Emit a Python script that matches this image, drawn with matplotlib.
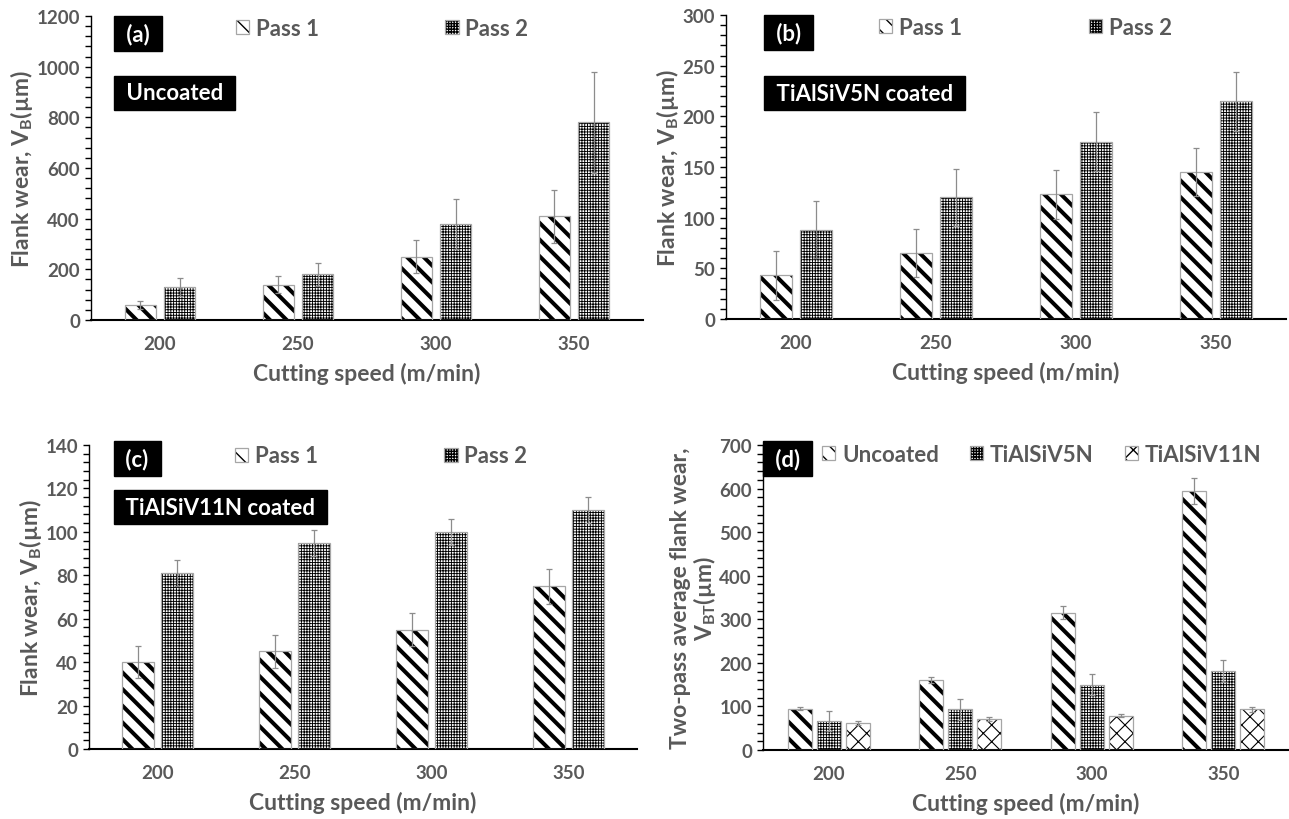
import numpy as np
import matplotlib
matplotlib.use("Agg")
import matplotlib.pyplot as plt
from matplotlib.patches import Patch
from matplotlib.ticker import MultipleLocator

plt.rcParams['font.family'] = ['Lato', 'DejaVu Sans']
plt.rcParams['font.weight'] = 'bold'
plt.rcParams['mathtext.default'] = 'regular'

speeds = ['200', '250', '300', '350']

# (a) uncoated
a_pass1 = [60, 140, 250, 410]
a_pass1_err = [15, 35, 65, 105]
a_pass2 = [130, 180, 380, 780]
a_pass2_err = [35, 45, 98, 198]

# (b) TiAlSiV5N coated
b_pass1 = [43, 65, 123, 145]
b_pass1_err = [24, 24, 24, 24]
b_pass2 = [88, 120, 175, 215]
b_pass2_err = [28, 28, 29, 29]

# (c) TiAlSiV11N coated
c_pass1 = [40, 45, 55, 75]
c_pass1_err = [7.5, 7.5, 7.5, 8]
c_pass2 = [81, 95, 100, 110]
c_pass2_err = [6, 6, 6, 6]

# (d) two-pass average
d_unc = [95, 160, 315, 595]
d_unc_err = [3, 7, 15, 30]
d_v5 = [67, 93, 150, 182]
d_v5_err = [23, 25, 24, 25]
d_v11 = [62, 71, 79, 93]
d_v11_err = [5, 4, 4, 5]

TXT = '#595959'
ERR = '#8c8c8c'
EDGE = '#a6a6a6'

# hatch styles: (hatch, hatch linewidth)
STRIPE = ('\\\\', 2.9)
CHECK = ('++++++', 0.65)
DIAMOND = ('xx', 0.8)

W, H = 1289, 820
fig = plt.figure(figsize=(W / 100, H / 100), dpi=100)


def make_ax(left, top, right, bottom):
    return fig.add_axes([left / W, 1 - bottom / H, (right - left) / W, (bottom - top) / H])


def hatched_bars(ax, x, vals, errs, width, style):
    hatch, hlw = style
    with plt.rc_context({'hatch.linewidth': hlw}):
        bars = ax.bar(x, vals, width, color='white', edgecolor='black', linewidth=0, hatch=hatch, zorder=2)
    for b in bars:
        if hasattr(b, 'set_hatch_linewidth'):
            b.set_hatch_linewidth(hlw)
    ax.bar(x, vals, width, fill=False, edgecolor=EDGE, linewidth=0.9, zorder=3)
    ax.errorbar(x, vals, yerr=errs, fmt='none', ecolor=ERR, elinewidth=0.9, capsize=2.5, capthick=0.9, zorder=4)


def legend_handle(style):
    hatch, hlw = style
    with plt.rc_context({'hatch.linewidth': hlw}):
        p = Patch(facecolor='white', edgecolor='black', linewidth=0, hatch=hatch)
    if hasattr(p, 'set_hatch_linewidth'):
        p.set_hatch_linewidth(hlw)
    o = Patch(fill=False, edgecolor=EDGE, linewidth=0.9)
    return (p, o)


def add_legend(ax, styles, labels, pos, colsp):
    handles = [legend_handle(s) for s in styles]
    leg = ax.legend(handles=handles, labels=labels, ncol=len(labels), loc='center left',
                    bbox_to_anchor=pos, frameon=False, borderpad=0, borderaxespad=0,
                    handlelength=0.6, handleheight=0.6, handletextpad=0.3,
                    columnspacing=colsp, prop={'size': 16, 'weight': 'bold'})
    for t in leg.get_texts():
        t.set_color(TXT)


def style_ax(ax, ymax, major, minor, ylabel):
    ax.set_xlim(-0.5, 3.5)
    ax.set_ylim(0, ymax)
    ax.yaxis.set_major_locator(MultipleLocator(major))
    ax.yaxis.set_minor_locator(MultipleLocator(minor))
    ax.set_xticks(range(len(speeds)))
    ax.set_xticklabels(speeds)
    for s in ['top', 'right']:
        ax.spines[s].set_visible(False)
    ax.spines['left'].set_linewidth(1.0)
    ax.spines['bottom'].set_linewidth(1.5)
    ax.tick_params(axis='y', which='major', direction='out', length=4, width=1, labelsize=13.5, labelcolor=TXT, pad=4)
    ax.tick_params(axis='y', which='minor', direction='out', length=4, width=1)
    ax.tick_params(axis='x', length=0, labelsize=13.5, labelcolor=TXT, pad=11)
    for lab in ax.get_xticklabels() + ax.get_yticklabels():
        lab.set_fontweight('bold')
    ax.set_xlabel('Cutting speed (m/min)', fontsize=16.5, color=TXT, fontweight='bold', labelpad=7)
    ax.set_ylabel(ylabel, fontsize=16.5, color=TXT, fontweight='bold', labelpad=1)


def tag(ax, x, y, s):
    ax.text(x, y, ' ' + s + ' ', transform=ax.transAxes, ha='left', va='center', color='white',
            fontsize=16, fontweight='bold', zorder=6,
            bbox=dict(boxstyle='square,pad=0.3', facecolor='black', edgecolor='black'))


x = np.arange(len(speeds))
vb_label = r'Flank wear, V$_{B}$(µm)'

panels = [
    (make_ax(91, 17, 643, 321), a_pass1, a_pass1_err, a_pass2, a_pass2_err, 1200, 200, 40,
     '(a)', 'Uncoated', (0.054, 0.944), (0.054, 0.747), (0.262, 0.96)),
    (make_ax(726, 16, 1286, 320), b_pass1, b_pass1_err, b_pass2, b_pass2_err, 300, 50, 10,
     '(b)', 'TiAlSiV5N coated', (0.080, 0.941), (0.080, 0.743), (0.273, 0.96)),
    (make_ax(89, 446, 637, 750), c_pass1, c_pass1_err, c_pass2, c_pass2_err, 140, 20, 4,
     '(c)', 'TiAlSiV11N coated', (0.057, 0.957), (0.057, 0.796), (0.266, 0.964)),
]

for ax, p1, e1, p2, e2, ymax, major, minor, t1, t2, pos1, pos2, lpos in panels:
    hatched_bars(ax, x - 0.142, p1, e1, 0.228, STRIPE)
    hatched_bars(ax, x + 0.142, p2, e2, 0.228, CHECK)
    style_ax(ax, ymax, major, minor, vb_label)
    tag(ax, pos1[0], pos1[1], t1)
    tag(ax, pos2[0], pos2[1], t2)
    add_legend(ax, [STRIPE, CHECK], ['Pass 1', 'Pass 2'], lpos, 5.7)

# (d)
ax = make_ax(763, 446, 1289, 751)
hatched_bars(ax, x - 0.22, d_unc, d_unc_err, 0.18, STRIPE)
hatched_bars(ax, x, d_v5, d_v5_err, 0.18, CHECK)
hatched_bars(ax, x + 0.22, d_v11, d_v11_err, 0.18, DIAMOND)
style_ax(ax, 700, 100, 20, 'Two-pass average flank wear,\n' + r'V$_{BT}$(µm)')
ax.yaxis.label.set_linespacing(1.0)
tag(ax, 0.013, 0.957, '(d)')
add_legend(ax, [STRIPE, CHECK, DIAMOND], ['Uncoated', 'TiAlSiV5N', 'TiAlSiV11N'], (0.112, 0.97), 1.4)

fig.savefig('out.png', dpi=100)
